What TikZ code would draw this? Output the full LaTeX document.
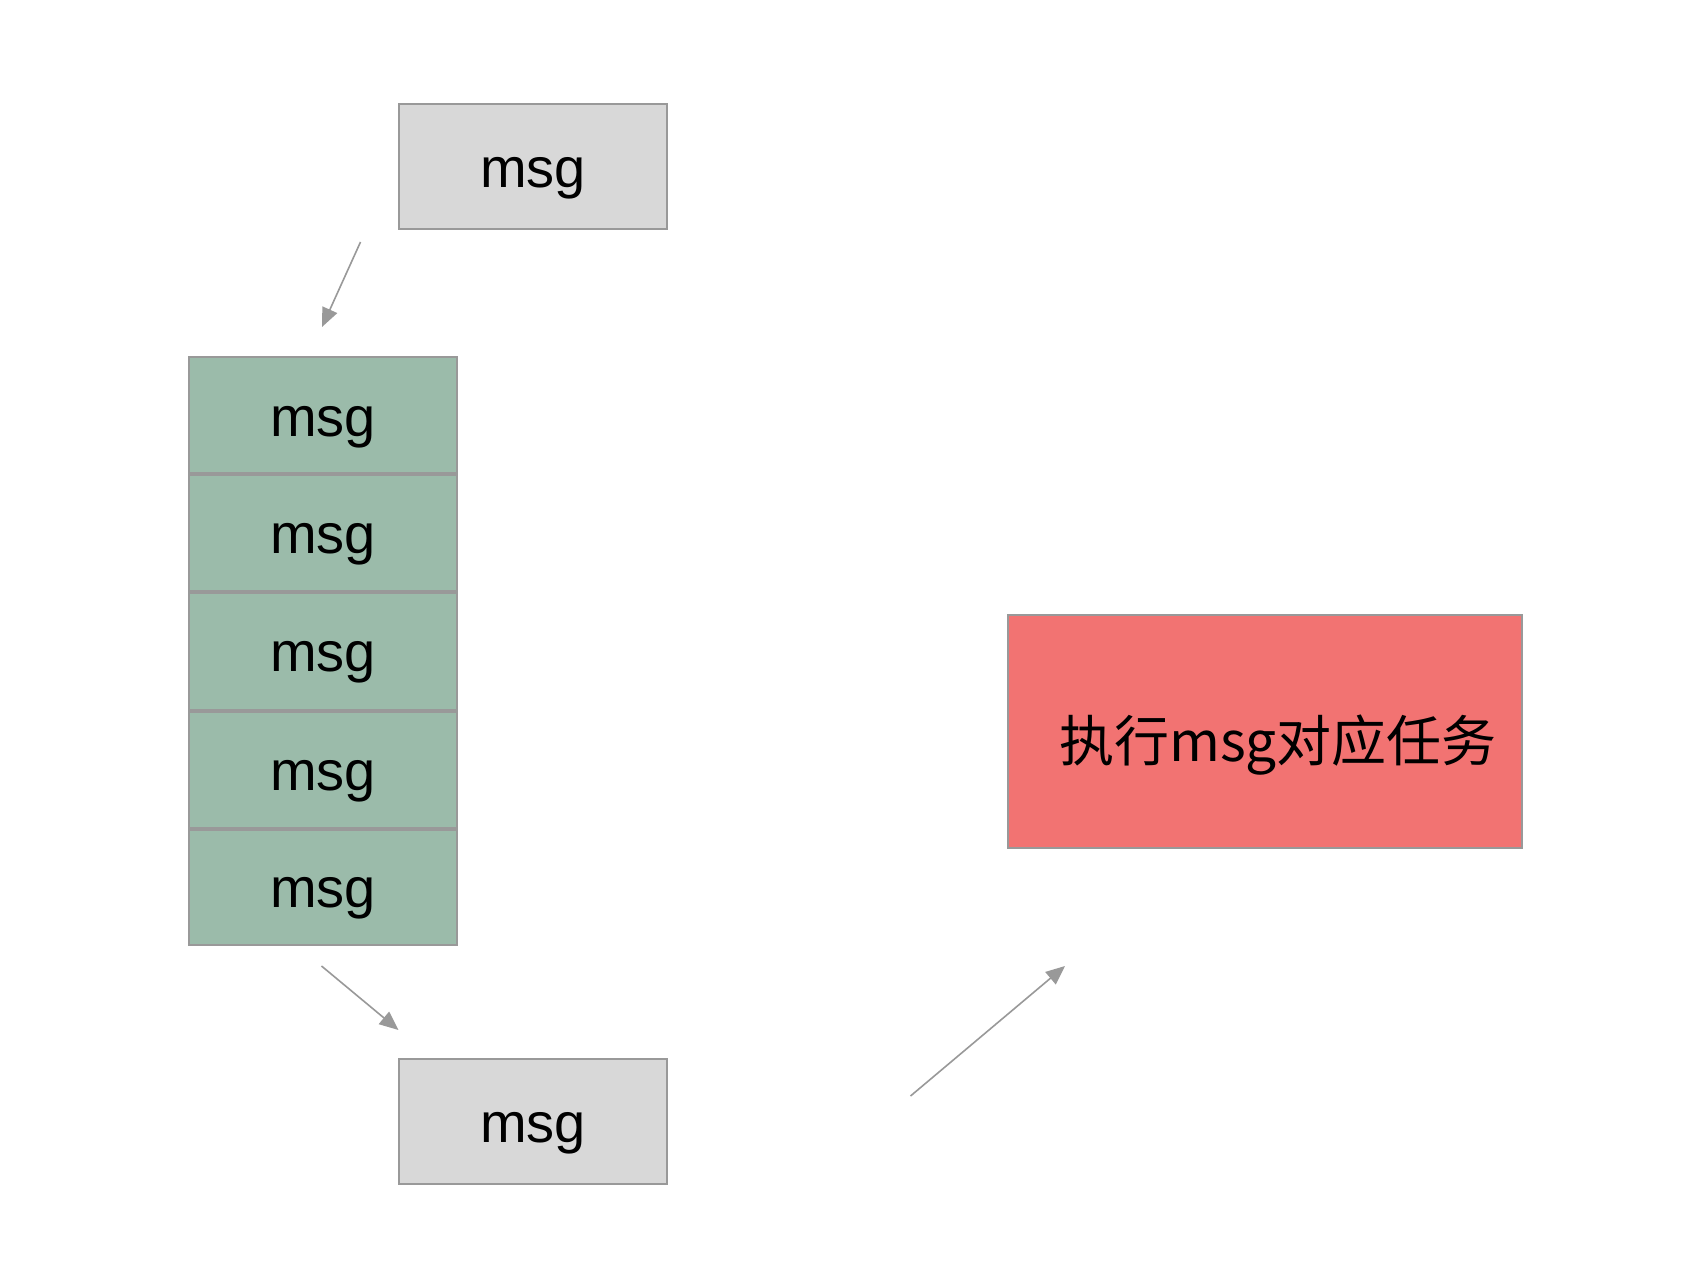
\documentclass[tikz,border=0pt]{standalone}
\usepackage{fontspec}
\setmainfont{Liberation Sans}
\newfontfamily\cjk{Noto Sans CJK SC}
\usetikzlibrary{arrows.meta}
\definecolor{boxline}{HTML}{999999}
\definecolor{msggray}{HTML}{D8D8D8}
\definecolor{qgreen}{HTML}{9BBBAA}
\definecolor{taskred}{HTML}{F27372}
\definecolor{arrowgray}{HTML}{999999}
\tikzset{
  msgbox/.style={draw=boxline, line width=1pt, fill=msggray, minimum width=134pt, minimum height=62.5pt,
    inner sep=0pt, text height=21pt, text depth=0pt, font=\fontsize{28}{30}\selectfont},
  qcell/.style={draw=boxline, line width=1pt, fill=qgreen, minimum width=134pt,
    inner sep=0pt, text height=21pt, text depth=0pt, font=\fontsize{28}{30}\selectfont},
  taskbox/.style={draw=boxline, line width=1pt, fill=taskred, minimum width=257pt, minimum height=116.5pt,
    inner sep=0pt, text height=29.5pt, text depth=0pt, font=\cjk\fontsize{27.5}{30}\selectfont},
  divider/.style={draw=boxline, line width=1.8pt},
  flow/.style={draw=arrowgray, line width=0.8pt, -{Triangle[length=9.5pt,width=8pt]}}
}
\begin{document}
\begin{tikzpicture}[x=0.5pt,y=-0.5pt]
\useasboundingbox[fill=white] (0,0) rectangle (1686,1268);
% top message
\node[msgbox] (top) at (533,166.5) {msg};
% queue
\node[qcell, minimum height=58pt] (q1) at (323,415) {msg};
\node[qcell, minimum height=59pt] (q2) at (323,532) {msg};
\node[qcell, minimum height=59.5pt] (q3) at (323,650.5) {msg};
\node[qcell, minimum height=59pt] (q4) at (323,769) {msg};
\node[qcell, minimum height=58.5pt] (q5) at (323,886.5) {msg};
\draw[divider] (q1.south west) -- (q1.south east);
\draw[divider] (q2.south west) -- (q2.south east);
\draw[divider] (q3.south west) -- (q3.south east);
\draw[divider] (q4.south west) -- (q4.south east);
% bottom message
\node[msgbox] (bot) at (533,1121) {msg};
% task
\node[taskbox] (task) at (1265,731.5) {\hspace*{13pt}执行msg对应任务};
% arrow ends
\coordinate (a1s) at (360.5,242);
\coordinate (a1e) at (322,327);
\coordinate (a2s) at (321.5,966);
\coordinate (a2e) at (398.5,1030);
\coordinate (a3s) at (910.5,1096);
\coordinate (a3e) at (1065,966);
\draw[flow] (a1s) -- (a1e);
\draw[flow] (a2s) -- (a2e);
\draw[flow] (a3s) -- (a3e);
\end{tikzpicture}
\end{document}
